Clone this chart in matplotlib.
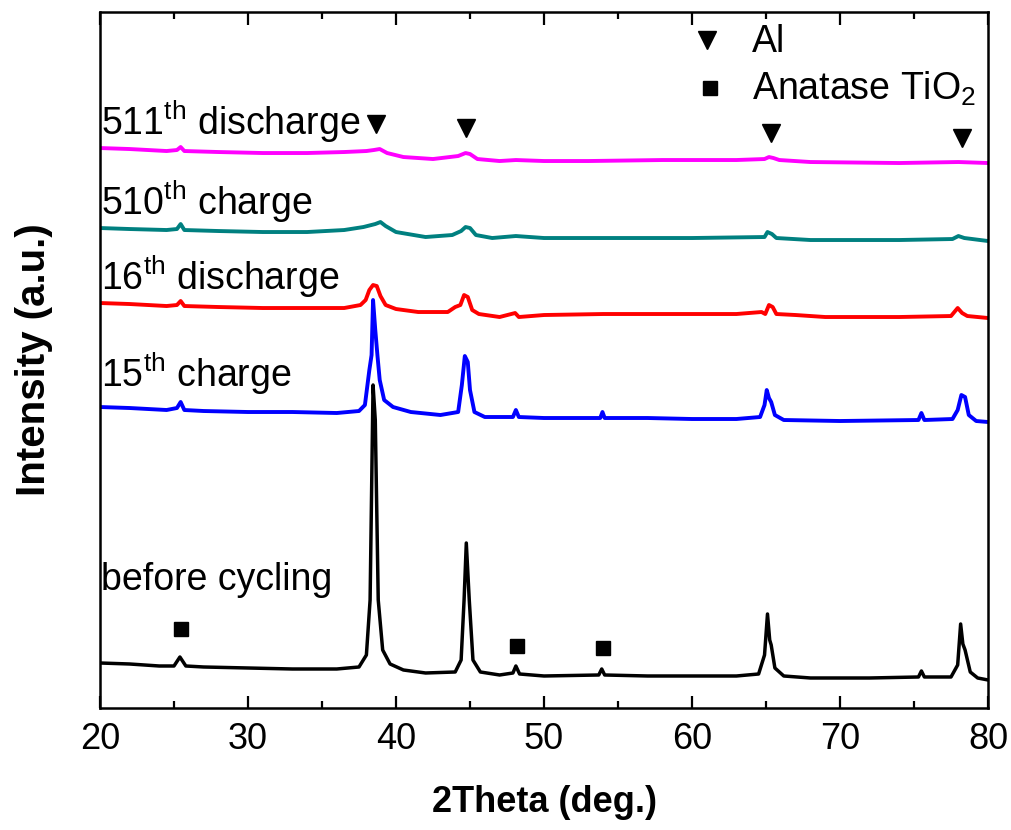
import numpy as np
import matplotlib.pyplot as plt
from matplotlib.ticker import MultipleLocator

plt.rcParams['font.family'] = ['Liberation Sans', 'DejaVu Sans']
plt.rcParams['mathtext.fontset'] = 'custom'
plt.rcParams['mathtext.rm'] = 'Liberation Sans'
plt.rcParams['mathtext.it'] = 'Liberation Sans:italic'
plt.rcParams['mathtext.bf'] = 'Liberation Sans:bold'

# before cycling (black)
x_before = [20, 22, 24, 25.0, 25.4, 25.8, 27, 30, 33, 36, 37.5, 38.0, 38.25, 38.45, 38.6,
            38.8, 39.1, 39.6, 40.5, 42, 44.0, 44.4, 44.6, 44.75, 44.95, 45.2, 45.7, 47, 47.9,
            48.1, 48.35, 50, 53.7, 53.9, 54.1, 57, 60, 63, 64.5, 64.9, 65.1, 65.25, 65.35,
            65.6, 66.2, 68, 72, 75.3, 75.5, 75.7, 77.5, 77.95, 78.15, 78.3, 78.45, 78.8, 79.3, 80]
y_before = [45, 44, 42, 42, 51, 42, 41, 40, 39, 39, 41, 53, 108, 323, 288,
            108, 58, 44, 38, 35, 36, 48, 108, 165, 108, 48, 36, 33, 35,
            42, 34, 32, 33, 39, 33, 32, 32, 32, 34, 53, 94, 68, 63,
            40, 32, 30, 30, 31, 37, 31, 31, 43, 84, 64, 58, 36, 30, 28]

# 15th charge (blue)
x_15c = [20, 22, 24.5, 25.2, 25.45, 25.7, 27, 30, 33, 36, 37.5, 37.9, 38.2, 38.35, 38.45,
         38.6, 38.75, 38.9, 39.2, 39.8, 41, 43, 44.2, 44.45, 44.65, 44.85, 45.0, 45.3, 46,
         47.9, 48.1, 48.3, 50, 53.8, 53.95, 54.1, 57, 60, 63, 64.6, 64.9, 65.05, 65.2, 65.35,
         65.6, 66.2, 70, 75.3, 75.5, 75.7, 77.6, 77.95, 78.2, 78.45, 78.7, 79.2, 80]
y_15c = [301, 300, 298, 300, 306, 298, 297, 296, 296, 295, 297, 303, 338, 353, 408,
         378, 352, 328, 308, 301, 296, 293, 296, 323, 352, 346, 318, 296, 291,
         291, 298, 291, 290, 290, 296, 290, 290, 289, 289, 291, 303, 318, 310, 306,
         293, 288, 287, 288, 295, 288, 289, 298, 313, 311, 293, 287, 286]

# 16th discharge (red)
x_16d = [20, 22, 24.5, 25.2, 25.45, 25.7, 28, 31, 34, 36.5, 37.6, 37.95, 38.2, 38.45, 38.7,
         38.95, 39.3, 40, 41.5, 43.5, 44.0, 44.35, 44.6, 44.85, 45.15, 45.6, 47, 48.05, 48.3,
         50, 54, 57, 60, 63, 64.7, 64.95, 65.2, 65.45, 65.7, 67, 69, 74, 77.5, 77.95, 78.25,
         78.6, 80]
y_16d = [405, 404, 402, 403, 407, 402, 401, 400, 400, 400, 403, 408, 418, 423, 422,
         412, 403, 399, 396, 396, 401, 403, 413, 411, 398, 394, 391, 395, 391,
         393, 394, 394, 394, 394, 396, 394, 403, 401, 394, 393, 391, 391, 392, 400, 395,
         392, 390]

# 510th charge (teal)
x_510c = [20, 22, 24.5, 25.2, 25.45, 25.7, 28, 31, 34, 36.5, 37.8, 38.6, 38.95, 39.3, 40,
          42, 43.8, 44.4, 44.7, 45.0, 45.4, 46.5, 48.1, 50, 55, 60, 64.9, 65.1, 65.4, 65.7,
          68, 74, 77.6, 78.0, 78.4, 80]
y_510c = [480, 479, 478, 479, 484, 478, 477, 476, 476, 478, 481, 484, 486, 482, 476,
          471, 473, 477, 481, 480, 473, 470, 472, 470, 470, 470, 471, 476, 474, 470,
          468, 468, 469, 472, 470, 467]

# 511th discharge (magenta)
x_511d = [20, 22, 24.5, 25.2, 25.45, 25.7, 28, 31, 34, 36.5, 38.0, 38.5, 38.9, 39.4, 40.5,
          42.5, 44.2, 44.7, 45.0, 45.5, 47, 48.1, 50, 53, 58, 63, 64.9, 65.2, 65.5, 65.9,
          68, 74, 78, 80]
y_511d = [560, 559, 557, 558, 561, 557, 556, 555, 555, 556, 557, 558, 559, 555, 551,
          549, 552, 555, 554, 549, 547, 548, 547, 547, 548, 548, 549, 551, 550, 548,
          546, 545, 546, 545]

curves = [
    (x_before, y_before, 'black', r'before cycling', 118),
    (x_15c, y_15c, 'blue', r'15$^{\mathrm{th}}$ charge', 321),
    (x_16d, y_16d, 'red', r'16$^{\mathrm{th}}$ discharge', 418),
    (x_510c, y_510c, '#008080', r'510$^{\mathrm{th}}$ charge', 493),
    (x_511d, y_511d, '#ff00ff', r'511$^{\mathrm{th}}$ discharge', 573),
]

# phase markers
al_x = [38.65, 44.73, 65.34, 78.24]
al_y = [584, 580, 575, 570]
tio2_x = [25.47, 48.18, 53.99]
tio2_y = [79, 62, 60]

fig = plt.figure(figsize=(10.12, 8.30), dpi=100)
ax = fig.add_axes([0.0988, 0.147, 0.8775, 0.8385])

for xs, ys, col, lab, ty in curves:
    ax.plot(xs, ys, color=col, lw=2.8 if col != 'black' else 2.5)
    ax.text(20.1, ty, lab, fontsize=27, ha='left', va='baseline')

ax.plot(al_x, al_y, 'v', color='black', ms=13, ls='none')
ax.plot(tio2_x, tio2_y, 's', color='black', ms=9.5, ls='none')

# legend drawn by hand
ax.plot([61.0], [668], 'v', color='black', ms=13)
ax.text(64.05, 656, 'Al', fontsize=27, va='baseline')
ax.plot([61.2], [620], 's', color='black', ms=9.5)
ax.text(64.05, 608, r'Anatase TiO$_2$', fontsize=27, va='baseline')

ax.set_xlim(20, 80)
ax.set_ylim(0, 696)
ax.xaxis.set_major_locator(MultipleLocator(10))
ax.xaxis.set_minor_locator(MultipleLocator(5))
ax.set_yticks([])
ax.tick_params(axis='x', which='major', direction='in', length=9, width=1.6,
               labelsize=26, pad=10, top=True)
ax.tick_params(axis='x', which='minor', direction='in', length=5, width=1.6, top=True)
for s in ax.spines.values():
    s.set_linewidth(1.8)

ax.set_xlabel('2Theta (deg.)', fontsize=26, fontweight='bold', labelpad=20)
ax.set_ylabel('Intensity (a.u.)', fontsize=29, fontweight='bold', labelpad=34)

fig.savefig('out.png', dpi=100)
